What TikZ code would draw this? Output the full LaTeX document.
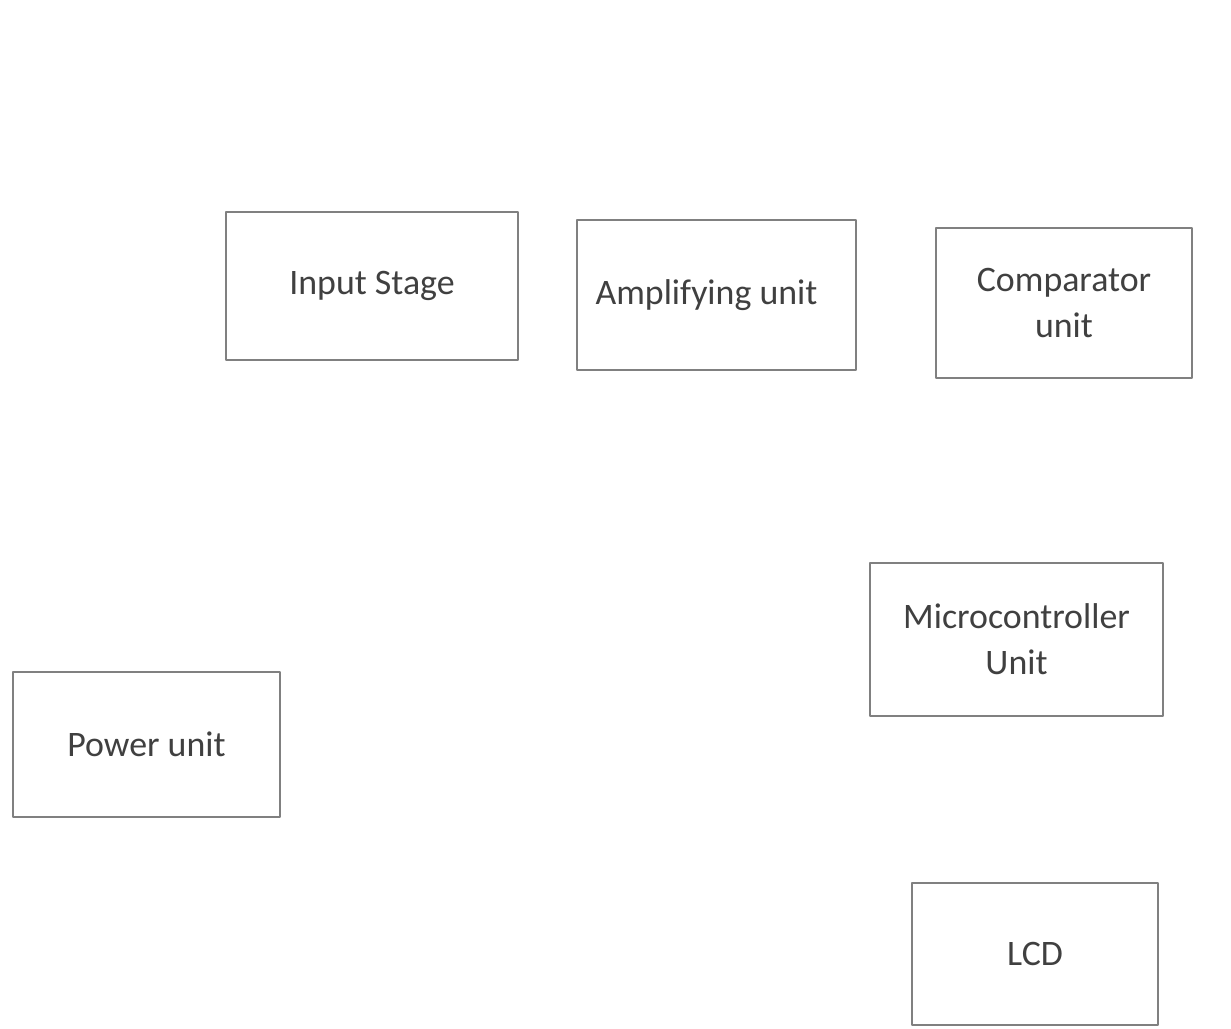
\documentclass[tikz,border=0pt]{standalone}
\usepackage{fontspec}
\setmainfont{Carlito}
\tikzset{blk/.style={draw=black!50,line width=0.75pt,fill=white,align=center,inner sep=0pt,text=black!75}}
\begin{document}
\begin{tikzpicture}[font=\fontsize{10.2}{13}\selectfont, line cap=round,line join=round]
\useasboundingbox (0,0) rectangle (12.31,10.28);
\node [blk,minimum width=2.92cm,minimum height=1.48cm] (input) at (3.72,7.42) {\raisebox{-2pt}{Input Stage}};
\node [blk,minimum width=2.79cm,minimum height=1.50cm] (amp) at (7.165,7.33) {\hspace*{-0.2cm}\raisebox{-2pt}{Amplifying unit}};
\node [blk,minimum width=2.56cm,minimum height=1.50cm] (comp) at (10.64,7.25) {Comparator\\unit};
\node [blk,minimum width=2.93cm,minimum height=1.53cm] (mcu) at (10.165,3.885) {Microcontroller\\Unit};
\node [blk,minimum width=2.67cm,minimum height=1.45cm] (power) at (1.465,2.835) {Power unit};
\node [blk,minimum width=2.46cm,minimum height=1.42cm] (lcd) at (10.35,0.74) {\raisebox{-2pt}{LCD}};
\end{tikzpicture}
\end{document}
